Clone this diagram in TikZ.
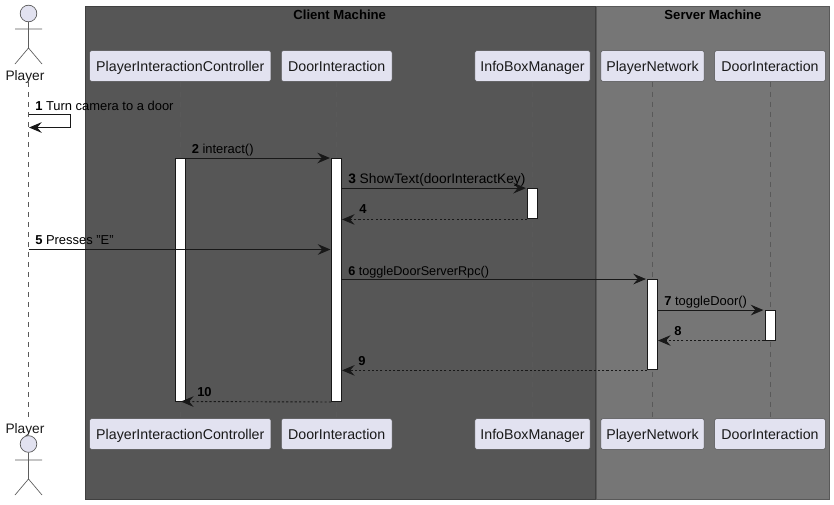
\documentclass[tikz,border=0pt]{standalone}
\usepackage{fontspec}
\setmainfont{Liberation Sans}
\usetikzlibrary{positioning,calc,arrows.meta}
\definecolor{partfill}{HTML}{E2E2F0}
\definecolor{umlline}{HTML}{181818}
\definecolor{clientbg}{HTML}{565656}
\definecolor{serverbg}{HTML}{767676}

\begin{document}
\begin{tikzpicture}[x=0.75pt,y=-0.75pt,>={Stealth[length=9.5pt,width=8pt,inset=3.4pt]},
                       part/.style={rectangle,rounded corners=1.5pt,fill=partfill,draw=umlline!75,line width=0.4pt,
                                    minimum height=23pt,inner sep=0pt,text height=10pt,text depth=1.6pt,
                                    font=\fontsize{10.65pt}{12pt}\selectfont,text=black!90},
                       actor/.style={circle,fill=partfill,draw=umlline!75,line width=0.5pt,minimum size=12.5pt,inner sep=0pt},
                       limb/.style={draw=umlline!70,line width=0.5pt},
                       who/.style={inner sep=0pt,font=\fontsize{10.3pt}{12pt}\selectfont,text=black!90},
                       lifeline/.style={draw=black!65,line width=0.5pt,dash pattern=on 3.75pt off 3.75pt},
                       bar/.style={rectangle,fill=white,draw=umlline,line width=0.75pt,minimum width=7.5pt,inner sep=0pt},
                       msg/.style={->,draw=umlline,line width=0.7pt,shorten >=0.8pt},
                       ret/.style={msg,shorten >=0pt,dash pattern=on 1.6pt off 1.6pt},
                       lbl/.style={anchor=base west,inner sep=0pt,font=\fontsize{9.7pt}{11pt}\selectfont,text=black},
                       grouptitle/.style={inner sep=0pt,font=\fontsize{9.85pt}{11pt}\selectfont\bfseries,text=black}
                      ]
  \useasboundingbox (0,0) rectangle (834,504);
  \fill[white] (0,0) rectangle (834,504);

  % machine boxes
  \draw[fill=clientbg,draw=black!75,line width=0.5pt] (85,6) rectangle (595,499.5);
  \draw[fill=serverbg,draw=black!65,line width=0.5pt] (596.5,6) rectangle (829,499.5);
  \node[grouptitle] (client) at (339.7,14.5) {Client Machine};
  \node[grouptitle] (server) at (713,14.5) {Server Machine};

  % participants
  \node[who] (player) at (25,76.5) {Player};
  \node[who] (playerB) at (25,429.5) {Player};
  \node[part,minimum width=136pt] (pic) at (180.3,66) {PlayerInteractionController};
  \node[part,minimum width=83pt] (door) at (336.7,66) {DoorInteraction};
  \node[part,minimum width=86.5pt] (info) at (532.5,66) {InfoBoxManager};
  \node[part,minimum width=77.5pt] (net) at (652.5,66) {PlayerNetwork};
  \node[part,minimum width=83pt] (sdoor) at (770,66) {DoorInteraction};
  \node[part,minimum width=136pt] (picB) at (180.3,434) {PlayerInteractionController};
  \node[part,minimum width=83pt] (doorB) at (336.7,434) {DoorInteraction};
  \node[part,minimum width=86.5pt] (infoB) at (532.5,434) {InfoBoxManager};
  \node[part,minimum width=77.5pt] (netB) at (652.5,434) {PlayerNetwork};
  \node[part,minimum width=83pt] (sdoorB) at (770,434) {DoorInteraction};

  % actors
  \node[actor] (head) at (28.5,13.5) {};
  \node[actor] (headB) at (28.5,444) {};
  \coordinate (hip) at (28.5,48);
  \coordinate (hipB) at (28.5,479);
  \draw[limb] (head) -- (hip) (15,29) -- (42,29) (15,64) -- (hip) -- (42,64);
  \draw[limb] (headB) -- (hipB) (15,460) -- (42,460) (15,495) -- (hipB) -- (42,495);

  % lifelines
  \coordinate (lifeA) at (28.5,82);
  \coordinate (lifeB) at (28.5,418);
  \draw[lifeline] (lifeA) -- (lifeB);
  \path[lifeline]
   (pic.south) edge (picB.north)
   (door.south) edge (doorB.north)
   (info.south) edge (infoB.north)
   (net.south) edge (netB.north)
   (sdoor.south) edge (sdoorB.north);

  % activations
  \node[bar,minimum height=182.25pt] (barPic) at (180.5,280) {};
  \node[bar,minimum height=182.25pt] (barDoor) at (336.5,280) {};
  \node[bar,minimum height=22.75pt] (barInfo) at (532.5,203.8) {};
  \node[bar,minimum height=67.75pt] (barNet) at (652.5,324.7) {};
  \node[bar,minimum height=22.1pt] (barSdoor) at (770,325.3) {};

  % messages
  \coordinate (m1a) at (28.5,114.5);
  \coordinate (m1b) at (70.5,114.5);
  \coordinate (m1c) at (70.5,127.5);
  \coordinate (m1d) at (28,127.5);
  \coordinate (m5a) at (28.5,249.5);
  \coordinate (m5b) at (331.5,249.5);
  \coordinate (m10) at (181,401.5);
  \draw[msg] (m1a) -- (m1b) -- (m1c) -- (m1d);
  \draw[msg] (barPic.north east) -- (barDoor.north west);
  \draw[msg] (barDoor.east |- barInfo.north) -- (barInfo.north west);
  \draw[ret] (barInfo.south west) -- (barDoor.east |- barInfo.south);
  \draw[msg] (m5a) -- (m5b);
  \draw[msg] (barDoor.east |- barNet.north) -- (barNet.north west);
  \draw[msg] (barNet.east |- barSdoor.north) -- (barSdoor.north west);
  \draw[ret] (barSdoor.south west) -- (barNet.east |- barSdoor.south);
  \draw[ret] (barNet.south west) -- (barDoor.east |- barNet.south);
  \draw[ret] (barDoor.south west) -- (m10);

  % labels
  \node[lbl] (t1) at (35,110) {\textbf{1} Turn camera to a door};
  \node[lbl] (t2) at (191.5,153) {\textbf{2} interact()};
  \node[lbl,font=\fontsize{10.3pt}{11pt}\selectfont] (t3) at (348,183) {\textbf{3} ShowText(doorInteractKey)};
  \node[lbl] (t4) at (359,213) {\textbf{4}};
  \node[lbl] (t5) at (35,244) {\textbf{5} Presses "E"};
  \node[lbl,font=\fontsize{9.5pt}{11pt}\selectfont] (t6) at (348,275) {\textbf{6} toggleDoorServerRpc()};
  \node[lbl] (t7) at (664,305) {\textbf{7} toggleDoor()};
  \node[lbl] (t8) at (674,335) {\textbf{8}};
  \node[lbl] (t9) at (358,365) {\textbf{9}};
  \node[lbl] (t10) at (197,396) {\textbf{10}};
\end{tikzpicture}
\end{document}
